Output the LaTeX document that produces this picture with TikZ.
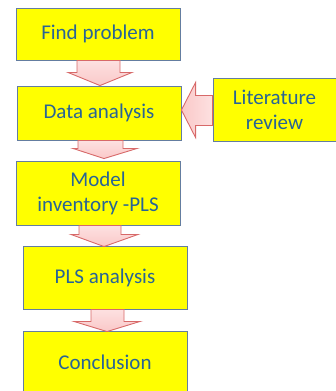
\documentclass[tikz,border=0pt]{standalone}
\usepackage{fontspec}
\setmainfont{Carlito}
\usetikzlibrary{calc}
\definecolor{boxfill}{RGB}{255,255,0}
\definecolor{boxline}{RGB}{100,125,160}
\definecolor{txt}{RGB}{40,100,150}
\definecolor{arrfill}{RGB}{250,200,200}
\definecolor{arrfilltop}{RGB}{253,225,225}
\definecolor{arrline}{RGB}{215,105,105}
\tikzset{
  stepbox/.style={draw=boxline, line width=0.9pt, fill=boxfill, minimum width=164pt,
    inner sep=0pt, align=center, text=txt, font=\fontsize{21}{25}\selectfont},
  blockarrow/.style={draw=arrline, line width=0.9pt, top color=arrfilltop, bottom color=arrfill, line join=miter},
  sidearrow/.style={draw=arrline, line width=0.9pt, left color=arrfill, right color=arrfilltop, line join=miter}
}
\begin{document}
\begin{tikzpicture}[x=1pt,y=-1pt]
\useasboundingbox (0,0) rectangle (335,391);
\node[stepbox, minimum height=52pt] (b1) at (98,34) {Find problem};
\node[stepbox, minimum height=54pt] (b2) at (99,113) {Data analysis};
\node[stepbox, minimum height=64pt] (b3) at (98,193) {Model\\inventory -PLS};
\node[stepbox, minimum height=63pt] (b4) at (105,277.5) {PLS analysis};
\node[stepbox, minimum height=62pt] (b5) at (105,362) {Conclusion};
\node[stepbox, minimum width=123pt, minimum height=63pt] (lit) at (274.5,109.5) {Literature\\review};
% down arrows
\draw[blockarrow] ($(b1.south)+(-21,0)$) -- ($(b1.south)+(22,0)$) -- ($(b1.south)+(22,12)$) -- ($(b1.south)+(34,12)$)
  -- ($(b2.north)+(1,0)$) -- ($(b1.south)+(-30,12)$) -- ($(b1.south)+(-21,12)$) -- cycle;
\draw[blockarrow] ($(b2.south)+(-21,0)$) -- ($(b2.south)+(24,0)$) -- ($(b2.south)+(24,8)$) -- ($(b2.south)+(38,8)$)
  -- ($(b3.north)+(6,-2)$) -- ($(b2.south)+(-26,8)$) -- ($(b2.south)+(-21,8)$) -- cycle;
\draw[blockarrow] ($(b3.south)+(-19,0)$) -- ($(b3.south)+(23,0)$) -- ($(b3.south)+(23,9)$) -- ($(b3.south)+(40,9)$)
  -- ($(b4.north)+(-1,1)$) -- ($(b3.south)+(-27,9)$) -- ($(b3.south)+(-19,9)$) -- cycle;
\draw[blockarrow] ($(b4.south)+(-14,0)$) -- ($(b4.south)+(19,0)$) -- ($(b4.south)+(19,12)$) -- ($(b4.south)+(35,12)$)
  -- ($(b5.north)+(2,1)$) -- ($(b4.south)+(-31,12)$) -- ($(b4.south)+(-14,12)$) -- cycle;
% side arrow
\draw[sidearrow] ($(lit.west)+(0,-14)$) -- ($(lit.west)+(-17,-14)$) -- ($(lit.west)+(-17,-27)$)
  -- ($(b2.east)+(0,-3)$) -- ($(lit.west)+(-17,28)$) -- ($(lit.west)+(-17,16)$) -- ($(lit.west)+(0,16)$) -- cycle;
\end{tikzpicture}
\end{document}
